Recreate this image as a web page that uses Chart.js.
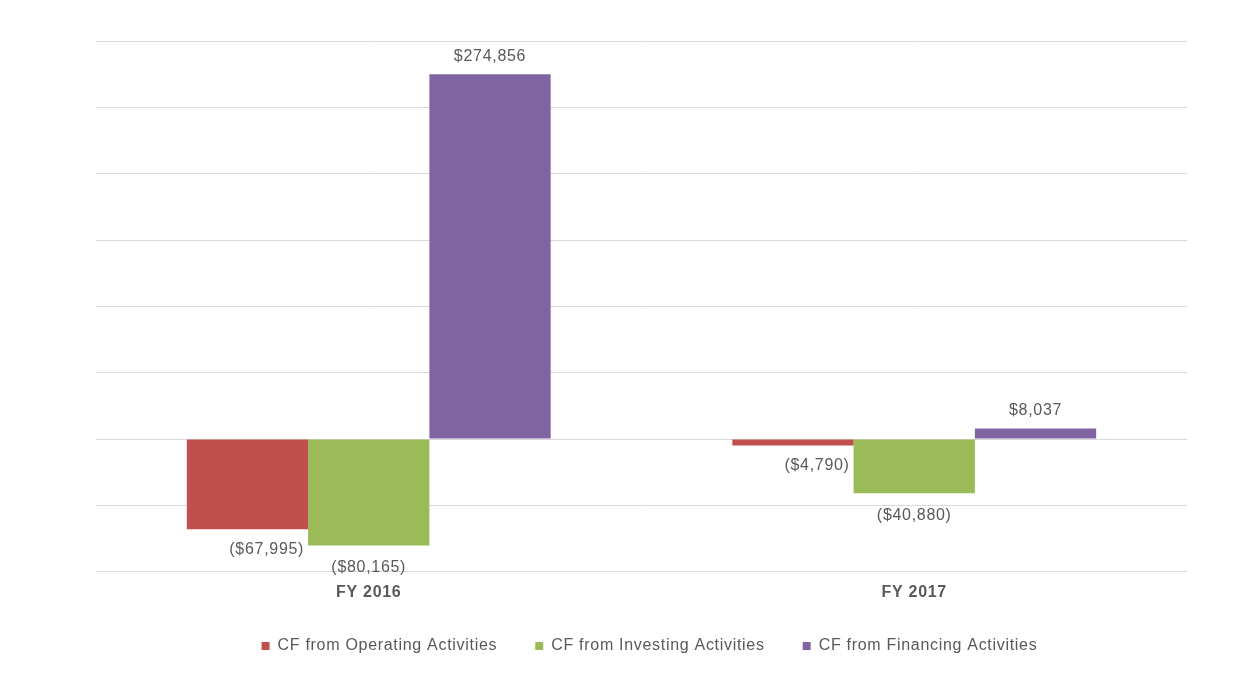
<!DOCTYPE html>
<html>
<head>
<meta charset="utf-8">
<script src="https://cdn.jsdelivr.net/npm/chart.js@4"></script>
<style>
  html, body { margin: 0; padding: 0; background: #fff; }
  #wrap { width: 1252px; height: 684px; }
</style>
</head>
<body>
<div id="wrap"><canvas id="cfChart"></canvas></div>
<script>
const categories = ['FY 2016', 'FY 2017'];
const seriesNames = ['CF from Operating Activities', 'CF from Investing Activities', 'CF from Financing Activities'];
const operating = [-67995, -4790];
const investing = [-80165, -40880];
const financing = [274856, 8037];
const colors = ['#C0504D', '#9BBB59', '#8064A2'];

function money(v) {
    const s = '$' + Math.abs(v).toLocaleString('en-US');
    return v < 0 ? '(' + s + ')' : s;
}

// text spacing like the office renderer
const spacing = {
    id: 'spacing',
    beforeUpdate(chart) { chart.ctx.letterSpacing = '0.7px'; },
    beforeDraw(chart) { chart.ctx.letterSpacing = '0.7px'; },
    afterLayout(chart) {
        // nudge the legend, leaves the plot area alone
        chart.legend.top -= 10;
        chart.legend.bottom -= 10;
        chart.legend.left += 8;
        chart.legend.right += 8;
    }
};

const valueLabels = {
    id: 'valueLabels',
    afterDatasetsDraw(chart) {
        const ctx = chart.ctx;
        ctx.save();
        ctx.letterSpacing = '0.7px';
        ctx.font = '16px "Liberation Sans", Arial, sans-serif';
        ctx.fillStyle = '#595959';
        ctx.textBaseline = 'middle';
        chart.data.datasets.forEach((ds, i) => {
            chart.getDatasetMeta(i).data.forEach((bar, j) => {
                const v = ds.data[j];
                if (v >= 0) {
                    ctx.textAlign = 'center';
                    ctx.fillText(money(v), bar.x, bar.y - 18);
                } else if (i === 0) {
                    ctx.textAlign = 'right';
                    ctx.fillText(money(v), bar.x + bar.width / 2 - 4, bar.y + 20);
                } else {
                    ctx.textAlign = 'center';
                    ctx.fillText(money(v), bar.x, bar.y + 22);
                }
            });
        });
        ctx.restore();
    }
};

const ctx = document.getElementById('cfChart').getContext('2d');
const myChart = new Chart(ctx, {
    type: 'bar',
    data: {
        labels: categories,
        datasets: [
            { label: seriesNames[0], data: operating, backgroundColor: colors[0] },
            { label: seriesNames[1], data: investing, backgroundColor: colors[1] },
            { label: seriesNames[2], data: financing, backgroundColor: colors[2] }
        ]
    },
    options: {
        responsive: true,
        maintainAspectRatio: false,
        animation: false,
        layout: { padding: { left: 96, right: 65, top: 41, bottom: 10 } },
        datasets: {
            bar: { categoryPercentage: 0.667, barPercentage: 1.0 }
        },
        scales: {
            x: {
                grid: { display: false },
                border: { display: false },
                afterFit(scale) { scale.height += 5; },
                ticks: {
                    color: '#595959',
                    padding: 3,
                    font: { family: '"Liberation Sans", Arial, sans-serif', size: 16, weight: 'bold' }
                }
            },
            y: {
                min: -100000,
                max: 300000,
                ticks: { display: false, stepSize: 50000 },
                border: { display: false },
                grid: { color: '#d9d9d9', lineWidth: 1, drawTicks: false }
            }
        },
        plugins: {
            legend: {
                position: 'bottom',
                labels: {
                    color: '#595959',
                    boxWidth: 8,
                    boxHeight: 8,
                    padding: 38,
                    font: { family: '"Liberation Sans", Arial, sans-serif', size: 16 }
                }
            },
            tooltip: { enabled: false }
        }
    },
    plugins: [spacing, valueLabels]
});
</script>
</body>
</html>
